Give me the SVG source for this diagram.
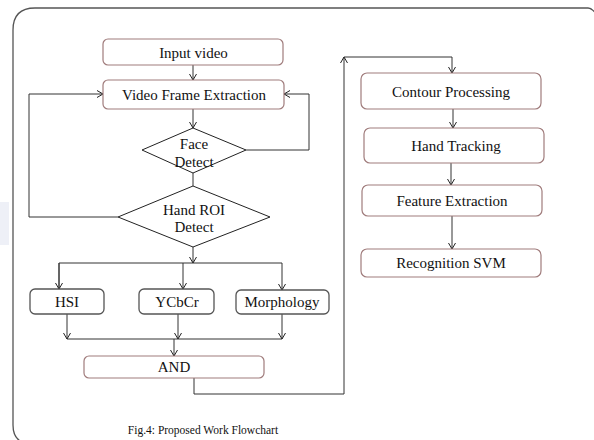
<svg xmlns="http://www.w3.org/2000/svg" width="594" height="440" viewBox="0 0 594 440">
<style>
text{font-family:"Liberation Serif","Times New Roman",serif;fill:#111;text-anchor:middle;dominant-baseline:central}
.t{font-size:15px}
.nb{fill:#fff;stroke:#a07c7c;stroke-width:1.2}
.ng{fill:#fff;stroke:#555;stroke-width:1.3}
.d{fill:#fff;stroke:#222;stroke-width:1}
.c{fill:none;stroke:#333;stroke-width:1}
</style>
<defs>
<marker id="a" markerWidth="10" markerHeight="10" refX="8" refY="5" orient="auto" markerUnits="userSpaceOnUse">
<path d="M2,1.5 L8,5 L2,8.5" fill="none" stroke="#222" stroke-width="1"/>
</marker>
</defs>
<rect width="594" height="440" fill="#fff"/>
<rect x="0" y="202" width="9" height="43" fill="#eef0f7"/>
<path d="M22,442 Q13,438 13,425 L13,30 Q13,8 35,8 L588,8 Q592,8 596,14" fill="none" stroke="#555" stroke-width="1.3"/>
<g id="connectors">
<path class="c" d="M193,65 V80" marker-end="url(#a)"/>
<path class="c" d="M193,109 V128" marker-end="url(#a)"/>
<path class="c" d="M246,150 H309 V94 H284" marker-end="url(#a)"/>
<path class="c" d="M193,173 V186"/>
<path class="c" d="M118,217 H29 V94 H103" marker-end="url(#a)"/>
<path class="c" d="M193,247 V263" marker-end="url(#a)"/>
<path class="c" d="M59,289 V263 H282 V290" marker-end="url(#a)"/>
<path class="c" d="M59,263 V289" marker-end="url(#a)"/>
<path class="c" d="M183,263 V289" marker-end="url(#a)"/>
<path class="c" d="M67,314 V339" marker-end="url(#a)"/>
<path class="c" d="M178,314 V339" marker-end="url(#a)"/>
<path class="c" d="M282,314 V339" marker-end="url(#a)"/>
<path class="c" d="M67,339 H282"/>
<path class="c" d="M174,339 V356" marker-end="url(#a)"/>
<path class="c" d="M194,378 V394 H344 V57" marker-end="url(#a)"/>
<path class="c" d="M344,57 H452 V73" marker-end="url(#a)"/>
<path class="c" d="M453,109 V128" marker-end="url(#a)"/>
<path class="c" d="M451,163 V185" marker-end="url(#a)"/>
<path class="c" d="M452,216 V249" marker-end="url(#a)"/>
</g>
<g id="input-video"><rect class="nb" x="103" y="39" width="180" height="26" rx="5"/><text class="t" x="193.5" y="53">Input video</text></g>
<g id="video-frame-extraction"><rect class="nb" x="103" y="80" width="181" height="29" rx="5"/><text class="t" x="194" y="95">Video Frame Extraction</text></g>
<g id="face-detect"><polygon class="d" points="142,150 193,128 246,150 193,173"/><text class="t" x="194" y="144">Face</text><text class="t" x="194" y="162">Detect</text></g>
<g id="hand-roi-detect"><polygon class="d" points="118,217 193,186 270,217 193,247"/><text class="t" x="194" y="210">Hand ROI</text><text class="t" x="194" y="227">Detect</text></g>
<g id="hsi"><rect class="ng" x="30" y="289" width="74" height="25" rx="5"/><text class="t" x="67" y="302">HSI</text></g>
<g id="ycbcr"><rect class="ng" x="139" y="289" width="75" height="25" rx="5"/><text class="t" x="177" y="302">YCbCr</text></g>
<g id="morphology"><rect class="ng" x="236" y="290" width="93" height="24" rx="5"/><text class="t" x="282" y="302">Morphology</text></g>
<g id="and"><rect class="nb" x="84" y="356" width="180" height="22" rx="5"/><text class="t" x="174" y="367">AND</text></g>
<g id="contour-processing"><rect class="nb" x="361" y="73" width="180" height="36" rx="6"/><text class="t" x="451" y="92">Contour Processing</text></g>
<g id="hand-tracking"><rect class="nb" x="364" y="128" width="180" height="35" rx="6"/><text class="t" x="456" y="146">Hand Tracking</text></g>
<g id="feature-extraction"><rect class="nb" x="362" y="185" width="180" height="31" rx="6"/><text class="t" x="452" y="201">Feature Extraction</text></g>
<g id="recognition-svm"><rect class="nb" x="361" y="249" width="180" height="28" rx="6"/><text class="t" x="451" y="263">Recognition SVM</text></g>
<text x="203" y="430" style="font-size:11.5px">Fig.4: Proposed Work Flowchart</text>
</svg>
